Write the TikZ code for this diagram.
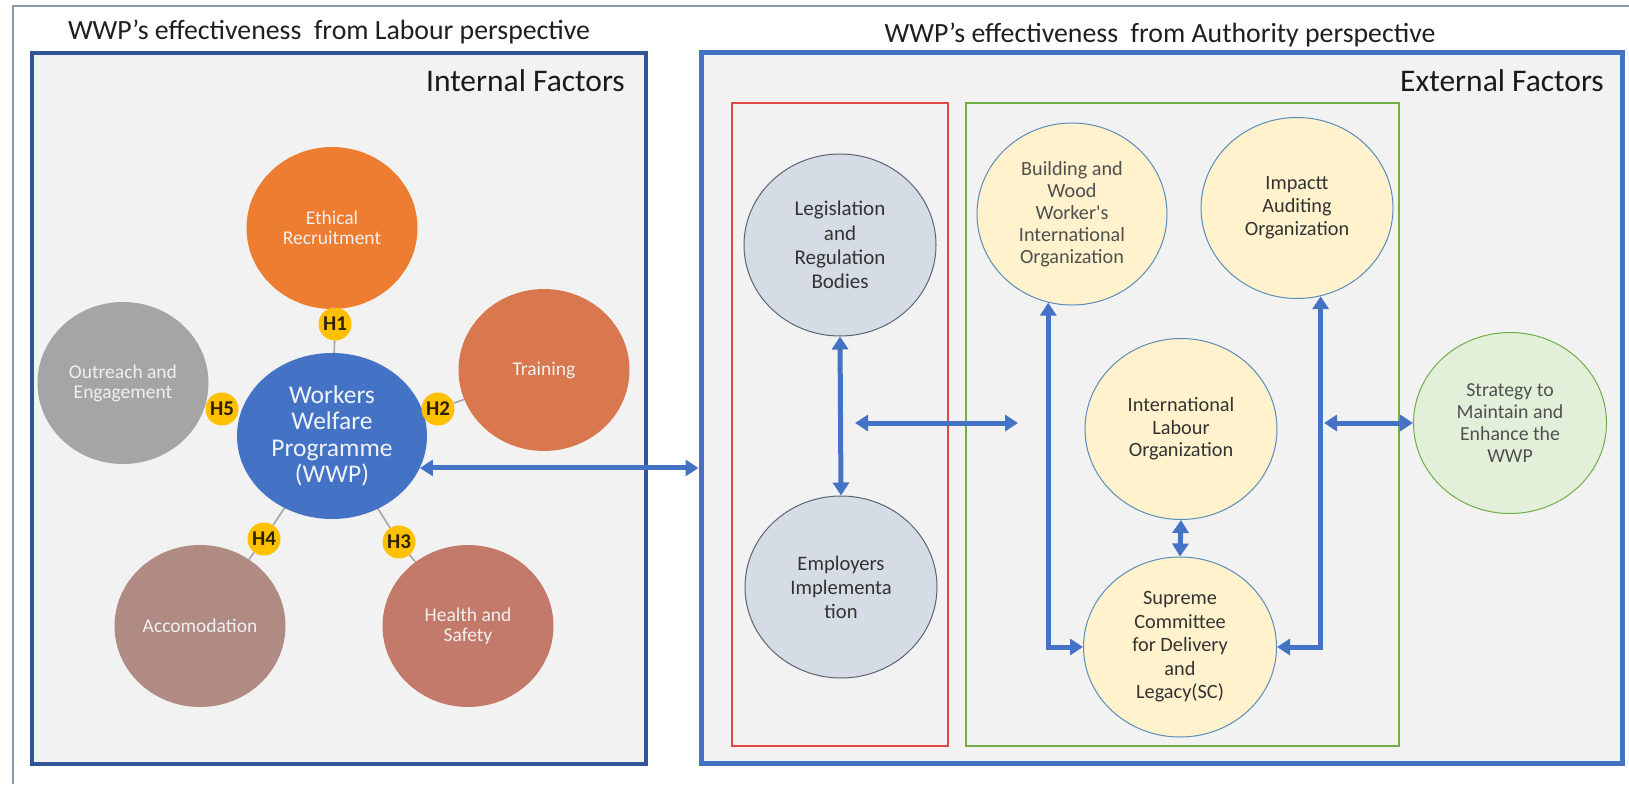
\documentclass[tikz,border=0pt]{standalone}
\usepackage{fontspec}
\setmainfont{Carlito}
\usetikzlibrary{shapes.geometric,arrows.meta}
\definecolor{cEth}{HTML}{ED7D31}
\definecolor{cTrn}{HTML}{D9784E}
\definecolor{cOut}{HTML}{A5A5A5}
\definecolor{cWWP}{HTML}{4472C4}
\definecolor{cAcc}{HTML}{AF8B84}
\definecolor{cHS}{HTML}{C47A6A}
\definecolor{cH}{HTML}{FFC000}
\definecolor{cHtxt}{HTML}{2B2300}
\definecolor{cBg}{HTML}{F2F2F2}
\definecolor{cLbox}{HTML}{2F5597}
\definecolor{cRbox}{HTML}{4472C4}
\definecolor{cRed}{HTML}{E04848}
\definecolor{cGreen}{HTML}{70AD47}
\definecolor{cLg}{HTML}{D6DCE5}
\definecolor{cLgB}{HTML}{5A6472}
\definecolor{cYel}{HTML}{FFF2CC}
\definecolor{cYelB}{HTML}{5B8DB8}
\definecolor{cStr}{HTML}{E2F0D9}
\definecolor{cArr}{HTML}{4472C4}
\definecolor{cFrame}{HTML}{8A9AAE}
\definecolor{cGline}{HTML}{A5A5A5}
\definecolor{cDark}{HTML}{333333}
\definecolor{cGray}{HTML}{505050}
\begin{document}
\begin{tikzpicture}[x=1pt,y=-1pt,
  ell/.style={ellipse, inner sep=0pt, align=center},
  factor/.style={ell, text=white!94!black, font=\fontsize{19.5}{20}\selectfont, minimum width=171pt, minimum height=162pt},
  hnode/.style={circle, fill=cH, minimum size=33pt, inner sep=0pt, text=cHtxt, font=\bfseries\fontsize{21}{21}\selectfont},
  legell/.style={ell, fill=cLg, draw=cLgB, line width=1pt, text=cDark, minimum width=192pt, minimum height=182pt},
  yell/.style={ell, fill=cYel, draw=cYelB, line width=1pt, text=cDark, minimum width=192pt, minimum height=181pt, font=\fontsize{20.3}{23}\selectfont},
  arr/.style={draw=cArr, line width=5pt, {Triangle[length=13pt,width=16pt]}-{Triangle[length=13pt,width=16pt]}},
  gline/.style={draw=cGline, line width=1.6pt},
  boxstyle/.style={rectangle, inner sep=0pt, fill=cBg},
  title/.style={inner sep=0pt, text=black!88, font=\fontsize{27.8}{30}\selectfont},
  factors/.style={inner sep=0pt, text=black!90, font=\fontsize{31.5}{34}\selectfont}
]
\useasboundingbox (0,0) rectangle (1629,784);
\fill[white] (0,0) rectangle (1629,784);
% outer frame
\coordinate (fc) at (13,6);
\coordinate (fr) at (1629,6);
\coordinate (fb) at (13,784);
\draw[cFrame, line width=1.5pt] (fr) -- (fc) -- (fb);

% boxes
\node[boxstyle, draw=cLbox, line width=3.5pt, minimum width=614pt, minimum height=711pt] (lbox) at (339,408.5) {};
\node[boxstyle, draw=cRbox, line width=5pt, minimum width=921pt, minimum height=710pt] (rbox) at (1161.5,408) {};
\node[boxstyle, draw=cRed, line width=1.2pt, minimum width=216pt, minimum height=643pt] (redbox) at (840,424.5) {};
\node[boxstyle, draw=cGreen, line width=1.2pt, minimum width=433pt, minimum height=643pt] (greenbox) at (1182.5,424.5) {};

% titles
\node[title, anchor=base] (t1) at (329,40) {WWP’s effectiveness~ from Labour perspective};
\node[title, anchor=base] (t2) at (1160,42) {WWP’s effectiveness~ from Authority perspective};
\node[factors, anchor=base east] (intf) at (625,92) {Internal Factors};
\node[factors, anchor=base east] (extf) at (1604,92) {External Factors};

% left side circles
\node[factor, fill=cEth] (eth) at (332,228) {Ethical\\Recruitment};
\node[factor, fill=cTrn] (trn) at (544,370) {Training};
\node[factor, fill=cOut] (out) at (123,383) {Outreach and\\Engagement};
\node[factor, fill=cAcc] (acc) at (200,626) {Accomodation};
\node[factor, fill=cHS] (hs) at (468,626) {Health and\\Safety};
\node[ell, fill=cWWP, minimum width=190pt, minimum height=166pt, text=white!92!cWWP, font=\fontsize{25.5}{26.5}\selectfont] (wwp) at (332,436) {Workers\\Welfare\\Programme\\(WWP)};

\node[hnode] (h1) at (335,324) {H1};
\node[hnode] (h2) at (438,409) {H2};
\node[hnode] (h3) at (399,542) {H3};
\node[hnode] (h4) at (264,539) {H4};
\node[hnode] (h5) at (222,409) {H5};

\draw[gline] (wwp) -- (h1);
\draw[gline] (h1) -- (eth);
\draw[gline] (h2) -- (trn);
\draw[gline] (wwp) -- (h3);
\draw[gline] (h3) -- (hs);
\draw[gline] (wwp) -- (h4);
\draw[gline] (h4) -- (acc);
\draw[gline] (h5) -- (out);

% right side ellipses
\node[legell, font=\fontsize{21}{24.3}\selectfont] (leg) at (840,245) {Legislation\\and\\Regulation\\Bodies};
\node[legell, font=\fontsize{20.6}{24}\selectfont] (emp) at (841,587) {Employers\\Implementa\\tion};
\node[yell, text=cGray, minimum width=190pt, minimum height=182pt, font=\fontsize{20.2}{22}\selectfont] (bwi) at (1072,214) {Building and\\Wood\\Worker\textquotesingle s\\International\\Organization};
\node[yell] (imp) at (1297,208) {Impactt\\Auditing\\Organization};
\node[yell, font=\fontsize{20.3}{22.5}\selectfont] (ilo) at (1181,429) {International\\Labour\\Organization};
\node[yell, minimum width=193pt, minimum height=180pt, font=\fontsize{20.3}{23.5}\selectfont] (sc) at (1180,647) {Supreme\\Committee\\for Delivery\\and\\Legacy(SC)};
\node[ell, fill=cStr, draw=cGreen, line width=1pt, text=cGray, minimum width=193pt, minimum height=181pt, font=\fontsize{19.8}{22}\selectfont] (str) at (1510,423) {Strategy to\\Maintain and\\Enhance the\\WWP};

% arrows
\coordinate (hl) at (855,423);
\coordinate (hr) at (1018,423);
\coordinate (sl) at (1324,423);
\draw[arr] (wwp.340) -- (wwp.340 -| rbox.west);
\draw[arr] (leg.south) -- (emp.north);
\draw[arr] (hl) -- (hr);
\draw[arr] (ilo.south) -- (sc.north);
\draw[arr] (bwi.255) |- (sc.west);
\draw[arr] (imp.285) |- (sc.east);
\draw[arr] (sl) -- (str.west);
\end{tikzpicture}
\end{document}
